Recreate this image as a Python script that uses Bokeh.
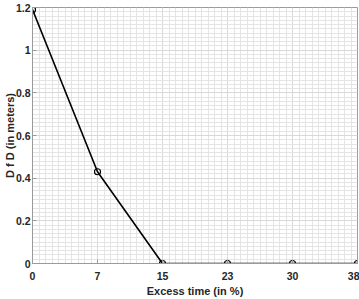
import numpy as np
from bokeh.plotting import figure
from bokeh.models import FixedTicker, Range1d
from bokeh.embed import file_html
from bokeh.resources import INLINE

# data
x_labels = ["0", "7", "15", "23", "30", "38"]
dfd = [1.19, 0.43, 0.0, 0.0, 0.0, 0.0]
y_ticks = [0, 0.2, 0.4, 0.6, 0.8, 1.0, 1.2]
y_tick_labels = ["0", "0.2", "0.4", "0.6", "0.8", "1", "1.2"]
y_title = "D f D (in meters)"
x_title = "Excess time (in %)"

xs = list(range(1, len(x_labels) + 1))

p = figure(width=359, height=299, output_backend="svg", toolbar_location=None,
           x_range=Range1d(1, len(x_labels)), y_range=Range1d(0, 1.2),
           min_border_left=32, min_border_right=2, min_border_top=7, min_border_bottom=36,
           x_axis_label=x_title, y_axis_label=y_title)
p.outline_line_color = "#9a9a9a"
p.background_fill_color = "white"
p.border_fill_color = "white"

x_minor = [round(v, 3) for v in np.arange(1, len(x_labels) + 1e-9, 0.1)]
y_minor = [round(v, 3) for v in np.arange(0, 1.2 + 1e-9, 0.02)]
xt = FixedTicker(ticks=xs, minor_ticks=x_minor)
yt = FixedTicker(ticks=y_ticks, minor_ticks=y_minor)
p.xaxis.ticker = xt
p.yaxis.ticker = yt
p.xaxis.major_label_overrides = {i: l for i, l in zip(xs, x_labels)}
p.yaxis.major_label_overrides = {t: l for t, l in zip(y_ticks, y_tick_labels)}

for ax in [p.xaxis[0], p.yaxis[0]]:
    ax.axis_line_color = "#9a9a9a"
    ax.major_tick_line_color = "#9a9a9a"
    ax.major_tick_in = 4
    ax.major_tick_out = 0
    ax.minor_tick_line_color = None
    ax.major_label_text_font = "Liberation Sans"
    ax.major_label_text_font_size = "10.5px"
    ax.major_label_text_font_style = "bold"
    ax.major_label_text_color = "#262626"
    ax.axis_label_text_font = "Liberation Sans"
    ax.axis_label_text_font_size = "11px"
    ax.axis_label_text_font_style = "bold"
    ax.axis_label_text_color = "#262626"
p.xaxis.major_label_standoff = 4
p.xaxis.axis_label_standoff = 2
p.yaxis.major_label_standoff = -2
p.yaxis.axis_label_standoff = -3

for g in [p.xgrid[0], p.ygrid[0]]:
    g.grid_line_color = "#d8d8d8"
    g.grid_line_width = 1
    g.minor_grid_line_color = "#e4e4e4"
    g.minor_grid_line_width = 1
p.xgrid[0].ticker = xt
p.ygrid[0].ticker = yt

p.line(xs, dfd, line_color="black", line_width=1.6)
p.scatter(xs, dfd, marker="circle", size=6, fill_color=None, line_color="black", line_width=1.2)

open("out.html", "w").write(file_html(p, INLINE))
